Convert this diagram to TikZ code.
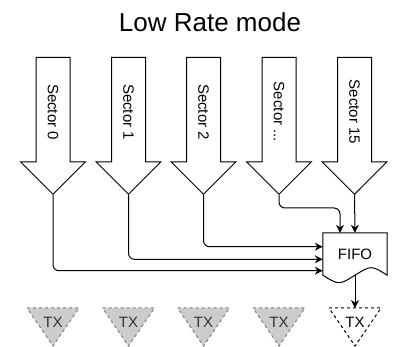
\documentclass[tikz,border=0pt]{standalone}
\usepackage{fontspec}
\setmainfont{Liberation Sans}
\usetikzlibrary{shapes.arrows,arrows.meta}
\definecolor{txgray}{HTML}{CCCCCC}
\definecolor{txline}{HTML}{808080}
\begin{document}
\begin{tikzpicture}[
  x=1pt, y=-1pt,
  every node/.style={font=\fontsize{15}{17}\selectfont},
  sector/.style={single arrow, draw, line width=1pt, rotate=-90, anchor=tip,
    minimum height=137pt, minimum width=64pt, inner xsep=0pt, inner ysep=16.5pt,
    single arrow head extend=15.5pt, single arrow tip angle=90},
  sectorlabel/.style={rotate=-90, inner sep=0pt},
  txshape/.style={draw=txline, fill=txgray, dashed, line width=1pt},
  txlabel/.style={inner sep=0pt, text=black!80},
  feed/.style={-{Stealth[length=8pt,width=8pt]}, line width=1pt, rounded corners=6pt}
]
\useasboundingbox (0,0) rectangle (394,347);
\node[font=\fontsize{26}{30}\selectfont] (title) at (210,22) {Low Rate mode};
\node[sector] (s0) at (53,195) {};
\node[sector] (s1) at (128.5,195) {};
\node[sector] (s2) at (203.5,195) {};
\node[sector] (s3) at (279,195) {};
\node[sector] (s4) at (354.5,195) {};
\node[sectorlabel] (l0) at (53,112) {Sector 0};
\node[sectorlabel] (l1) at (128.5,112) {Sector 1};
\node[sectorlabel] (l2) at (203.5,112) {Sector 2};
\node[sectorlabel] (l3) at (279,112) {Sector ...};
\node[sectorlabel] (l4) at (354.5,112) {Sector 15};
\node[minimum width=64pt, minimum height=42pt] (fifo) at (355,254) {FIFO};
\draw[line width=1pt] (fifo.north west) -- (fifo.north east) -- (fifo.south east)
  .. controls +(-16,-10) .. (fifo.south) .. controls +(-16,10) .. (fifo.south west) -- cycle;
% TX slots
\draw[txshape] (27,308) -- (79,308) -- (53,346) -- cycle;
\draw[txshape] (102.5,308) -- (154.5,308) -- (128.5,346) -- cycle;
\draw[txshape] (177.5,308) -- (229.5,308) -- (203.5,346) -- cycle;
\draw[txshape] (253,308) -- (305,308) -- (279,346) -- cycle;
\draw[txshape, draw=black, fill=white] (329,308) -- (381,308) -- (355,346) -- cycle;
\coordinate (t4top) at (355,308);
\node[txlabel] (t0) at (53,322) {TX};
\node[txlabel] (t1) at (128.5,322) {TX};
\node[txlabel] (t2) at (203.5,322) {TX};
\node[txlabel] (t3) at (279,322) {TX};
\node[txlabel, text=black] (t4) at (355,322) {TX};
\draw[feed] (s0.tip) |- ([yshift=-16.7pt]fifo.west);
\draw[feed] (s1.tip) |- ([yshift=-5.3pt]fifo.west);
\draw[feed] (s2.tip) |- ([yshift=7.3pt]fifo.west);
\draw[feed] (s3.tip) -- ++(0,13) -| ([xshift=-15pt]fifo.north);
\draw[feed] (s4.tip) -- (fifo.north);
\draw[feed] (fifo.south) -- (t4top);
\end{tikzpicture}
\end{document}
